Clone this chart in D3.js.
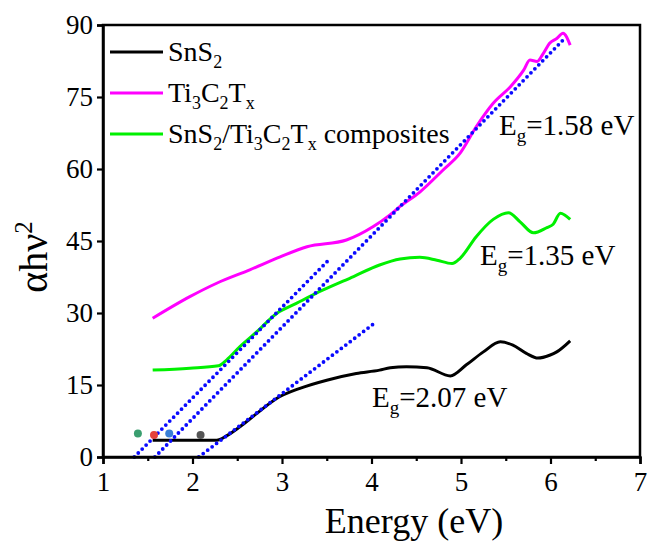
<!DOCTYPE html>
<html>
<head>
<meta charset="utf-8">
<script src="https://cdn.jsdelivr.net/npm/d3@7/dist/d3.min.js"></script>
<style>
  html, body { margin: 0; padding: 0; background: #fff; }
  svg text { font-family: "Liberation Serif", "Times New Roman", serif; }
</style>
</head>
<body>
<svg id="chart" width="652" height="542" font-family="Liberation Serif"></svg>
<script>
// Tauc plot data: photon energy (eV) vs (alpha h nu)^2
const snS2Energy = [1.555, 1.8, 2.05, 2.27, 2.38, 2.53, 2.72, 2.94, 3.2, 3.5, 3.83, 4.09, 4.21, 4.39, 4.62, 4.88, 5.06, 5.25, 5.44, 5.58, 5.73, 5.86, 5.99, 6.07, 6.22];
const snS2Values = [3.5, 3.5, 3.5, 3.5, 4.4, 6.3, 9.1, 12.2, 14.3, 16.0, 17.4, 18.1, 18.6, 18.8, 18.6, 16.9, 19.2, 21.9, 24.0, 23.3, 21.6, 20.6, 21.2, 21.9, 24.2];

const ti3c2Energy = [1.555, 1.97, 2.27, 2.64, 2.98, 3.28, 3.72, 4.02, 4.21, 4.32, 4.54, 4.80, 4.99, 5.17, 5.36, 5.55, 5.70, 5.77, 5.85, 5.92, 5.99, 6.07, 6.14, 6.22];
const ti3c2Values = [28.9, 33.4, 36.2, 39.0, 41.7, 43.8, 45.2, 48.0, 50.5, 52.2, 55.2, 59.8, 63.3, 68.8, 73.7, 77.1, 80.6, 82.7, 82.4, 84.1, 86.2, 87.2, 88.3, 85.8];

const compEnergy = [1.555, 1.97, 2.29, 2.38, 2.53, 2.72, 2.94, 3.16, 3.46, 3.80, 4.09, 4.32, 4.54, 4.73, 4.90, 4.99, 5.17, 5.36, 5.53, 5.66, 5.81, 5.96, 6.03, 6.11, 6.22];
const compValues = [18.1, 18.5, 19.0, 20.2, 23.0, 26.1, 29.9, 32.0, 34.8, 37.6, 40.0, 41.25, 41.6, 41.0, 40.3, 41.4, 45.9, 49.5, 50.9, 49.0, 46.7, 47.8, 48.5, 50.8, 49.5];

// Linear extrapolations: band gap (x-intercept), slope, end energy
const fitGaps = [1.35, 1.58, 2.07];
const fitSlopes = [18.9, 19.05, 14.2];
const fitEnds = [3.52, 6.16, 4.06];

// Markers near the baseline
const markerEnergy = [1.39, 1.57, 1.74, 2.09];
const markerValues = [4.9, 4.6, 4.9, 4.6];
const markerColors = ["#3a9e6f", "#e5423a", "#3a7fd6", "#555555"];

const xTicks = [1, 2, 3, 4, 5, 6, 7];
const xMinorTicks = [1.5, 2.5, 3.5, 4.5, 5.5, 6.5];
const yTicks = [0, 15, 30, 45, 60, 75, 90];

const FONT = "Liberation Serif, Times New Roman, serif";
const svg = d3.select("#chart");
const plotLeft = 103, plotRight = 640, plotTop = 25, plotBottom = 457;

const x = d3.scaleLinear().domain([1, 7]).range([plotLeft, plotRight]);
const y = d3.scaleLinear().domain([0, 90]).range([plotBottom, plotTop]);

const line = d3.line().x(d => x(d[0])).y(d => y(d[1])).curve(d3.curveMonotoneX);

function series(es, vs) { return es.map((e, i) => [e, vs[i]]); }

const g = svg.append("g");

// curves
g.append("path").datum(series(ti3c2Energy, ti3c2Values))
  .attr("d", line).attr("fill", "none").attr("stroke", "#ff00ff").attr("stroke-width", 3).attr("stroke-linejoin", "round");
g.append("path").datum(series(compEnergy, compValues))
  .attr("d", line).attr("fill", "none").attr("stroke", "#00f000").attr("stroke-width", 3).attr("stroke-linejoin", "round");
g.append("path").datum(series(snS2Energy, snS2Values))
  .attr("d", line).attr("fill", "none").attr("stroke", "#000").attr("stroke-width", 3).attr("stroke-linejoin", "round");

// dotted tangent lines
fitGaps.forEach((eg, i) => {
  const pts = [[eg, 0], [fitEnds[i], fitSlopes[i] * (fitEnds[i] - eg)]];
  g.append("path").datum(pts)
    .attr("d", d3.line().x(d => x(d[0])).y(d => y(d[1])))
    .attr("fill", "none").attr("stroke", "#0a0aff").attr("stroke-width", 3.8)
    .attr("stroke-linecap", "round").attr("stroke-dasharray", "0 5.6");
});

// markers
g.selectAll("circle.mk").data(markerEnergy).join("circle")
  .attr("class", "mk")
  .attr("cx", d => x(d)).attr("cy", (d, i) => y(markerValues[i]))
  .attr("r", 4).attr("fill", (d, i) => markerColors[i]);

// frame
svg.append("rect").attr("x", plotLeft).attr("y", plotTop)
  .attr("width", plotRight - plotLeft).attr("height", plotBottom - plotTop)
  .attr("fill", "none").attr("stroke", "#000").attr("stroke-width", 2.5);

// x axis
const xAxis = svg.append("g").attr("transform", `translate(0,${plotBottom})`)
  .call(d3.axisBottom(x).tickValues(xTicks).tickSize(7).tickFormat(d3.format("d")));
svg.append("g").attr("transform", `translate(0,${plotBottom})`)
  .call(d3.axisBottom(x).tickValues(xMinorTicks).tickSize(4).tickFormat(""))
  .call(a => a.select(".domain").remove());
// y axis
const yAxis = svg.append("g").attr("transform", `translate(${plotLeft},0)`)
  .call(d3.axisLeft(y).tickValues(yTicks).tickSize(6).tickFormat(d3.format("d")));

svg.selectAll(".domain").attr("stroke-width", 2.5);
svg.selectAll(".tick line").attr("stroke-width", 2.2);
svg.selectAll("g").filter(function () { return this.hasAttribute("font-family"); }).attr("font-family", FONT);
xAxis.selectAll("text").attr("font-size", 27).attr("fill", "#000").attr("y", 9).attr("dy", "0.92em");
yAxis.selectAll("text").attr("font-size", 27).attr("fill", "#000").attr("x", -10);

// axis titles
svg.append("text").attr("x", 414).attr("y", 533)
  .attr("text-anchor", "middle").attr("font-size", 36).text("Energy (eV)");
const yt = svg.append("text").attr("transform", "translate(47,257) rotate(-90)")
  .attr("text-anchor", "middle").attr("font-size", 40);
yt.append("tspan").text("αhν");
yt.append("tspan").attr("font-size", 25).attr("dy", -15).text("2");

// text with subscripts: parts are [text, isSub]
function richText(sel, parts, size) {
  const sub = Math.round(size * 0.65);
  const shift = Math.round(size * 0.24);
  parts.forEach(([t, s], i) => {
    const prevSub = i > 0 && parts[i - 1][1];
    const ts = sel.append("tspan").text(t);
    if (s) ts.attr("font-size", sub).attr("dy", prevSub ? 0 : shift);
    else ts.attr("dy", prevSub ? -shift : 0);
  });
}

// legend
const legendItems = [
  { color: "#000", parts: [["SnS", 0], ["2", 1]] },
  { color: "#ff00ff", parts: [["Ti", 0], ["3", 1], ["C", 0], ["2", 1], ["T", 0], ["x", 1]] },
  { color: "#00f000", parts: [["SnS", 0], ["2", 1], ["/Ti", 0], ["3", 1], ["C", 0], ["2", 1], ["T", 0], ["x", 1], [" composites", 0]] }
];
legendItems.forEach((it, i) => {
  const ly = 52 + i * 41;
  svg.append("line").attr("x1", 110).attr("x2", 163).attr("y1", ly).attr("y2", ly)
    .attr("stroke", it.color).attr("stroke-width", 3);
  const t = svg.append("text").attr("x", 168).attr("y", ly + 9).attr("font-size", 28);
  richText(t, it.parts, 28);
});

// band gap labels
const gapLabels = [
  { text: "=1.58 eV", x: 499, y: 135 },
  { text: "=1.35 eV", x: 480, y: 265 },
  { text: "=2.07 eV", x: 372, y: 407 }
];
gapLabels.forEach(l => {
  const t = svg.append("text").attr("x", l.x).attr("y", l.y).attr("font-size", 29);
  richText(t, [["E", 0], ["g", 1], [l.text, 0]], 29);
});
</script>
</body>
</html>
